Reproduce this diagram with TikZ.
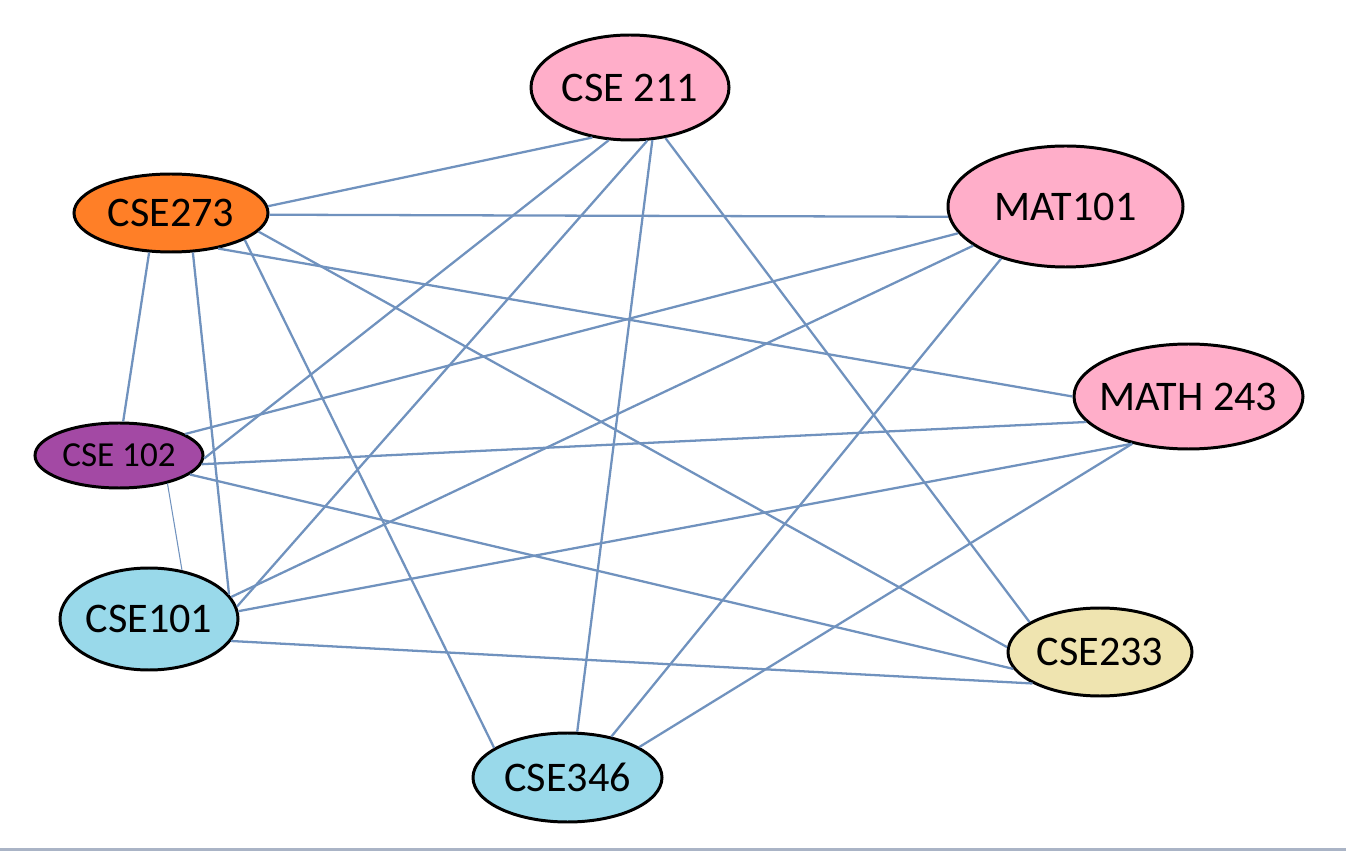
\documentclass[tikz,border=0pt]{standalone}
\usepackage{fontspec}
\setmainfont{Carlito}
\usepackage{xcolor}
\usetikzlibrary{shapes}
\definecolor{paintpink}{HTML}{FFAEC9}
\definecolor{paintorange}{HTML}{FF7F27}
\definecolor{paintpurple}{HTML}{A349A4}
\definecolor{paintblue}{HTML}{99D9EA}
\definecolor{paintbeige}{HTML}{EFE4B0}
\definecolor{linkblue}{HTML}{7092BE}
\definecolor{barline}{HTML}{AAB4C6}

\begin{document}
\begin{tikzpicture}[
    course/.style={ellipse, draw=black, line width=1.7pt, inner sep=0pt, font=\fontsize{24}{28}\selectfont},
    link/.style={draw=linkblue, line width=1.3pt}
]
    \useasboundingbox (0,0) rectangle (26.92,17.02);
    \fill[barline] (0,0) rectangle (26.92,0.06);

    % Courses
    \node[course, fill=paintpink, minimum width=3.96cm, minimum height=2.1cm] (cse211) at (12.6,15.27) {\makebox[0pt]{CSE 211}};
    \node[course, fill=paintorange, minimum width=3.88cm, minimum height=1.56cm] (cse273) at (3.42,12.76) {\makebox[0pt]{CSE273}};
    \node[course, fill=paintpink, minimum width=4.7cm, minimum height=2.42cm] (mat101) at (21.31,12.89) {\makebox[0pt]{MAT101}};
    \node[course, fill=paintpink, minimum width=4.58cm, minimum height=2.1cm] (math243) at (23.77,9.09) {\makebox[0pt]{MATH 243}};
    \node[course, fill=paintpurple, minimum width=3.36cm, minimum height=1.3cm, font=\fontsize{20}{24}\selectfont] (cse102) at (2.38,7.91) {\makebox[0pt]{CSE 102}};
    \node[course, fill=paintblue, minimum width=3.56cm, minimum height=2.04cm] (cse101) at (2.98,4.64) {\makebox[0pt]{CSE101}};
    \node[course, fill=paintbeige, minimum width=3.68cm, minimum height=1.76cm] (cse233) at (22,3.98) {\makebox[0pt]{CSE233}};
    \node[course, fill=paintblue, minimum width=3.78cm, minimum height=1.78cm] (cse346) at (11.35,1.47) {\makebox[0pt]{CSE346}};

    % Conflicts
    \draw[link] (cse273.4) -- (cse211.-127);
    \draw[link] (cse273.-1) -- (mat101.185);
    \draw[link] (cse273.-12) -- (cse233.177);
    \draw[link] (cse273.-37) -- (math243.180);
    \draw[link] (cse273.-20) -- (cse346.158);
    \draw[link] (cse273.-119) -- (cse102.83);
    \draw[link] (cse273.-61) -- (cse101.17);

    \draw[link] (cse211.-112) -- (cse102.-2);
    \draw[link] (cse211.-72) -- (cse101.8);
    \draw[link] (cse211.-67) -- (cse346.78);
    \draw[link] (cse211.-55) -- (cse233.157);

    \draw[link] (cse102.18) -- (mat101.194);
    \draw[link] (cse102.-6) -- (math243.194);
    \draw[link] (cse102.-15) -- (cse233.191);
    \draw[link, line width=0.6pt] (cse102.-30) -- (cse101.56);

    \draw[link] (cse101.15) -- (mat101.203);
    \draw[link] (cse101.5) -- (math243.220);
    \draw[link] (cse101.-15) -- (cse233.205);

    \draw[link] (cse346.43) -- (mat101.219);
    \draw[link] (cse346.23) -- (math243.220);
\end{tikzpicture}
\end{document}
